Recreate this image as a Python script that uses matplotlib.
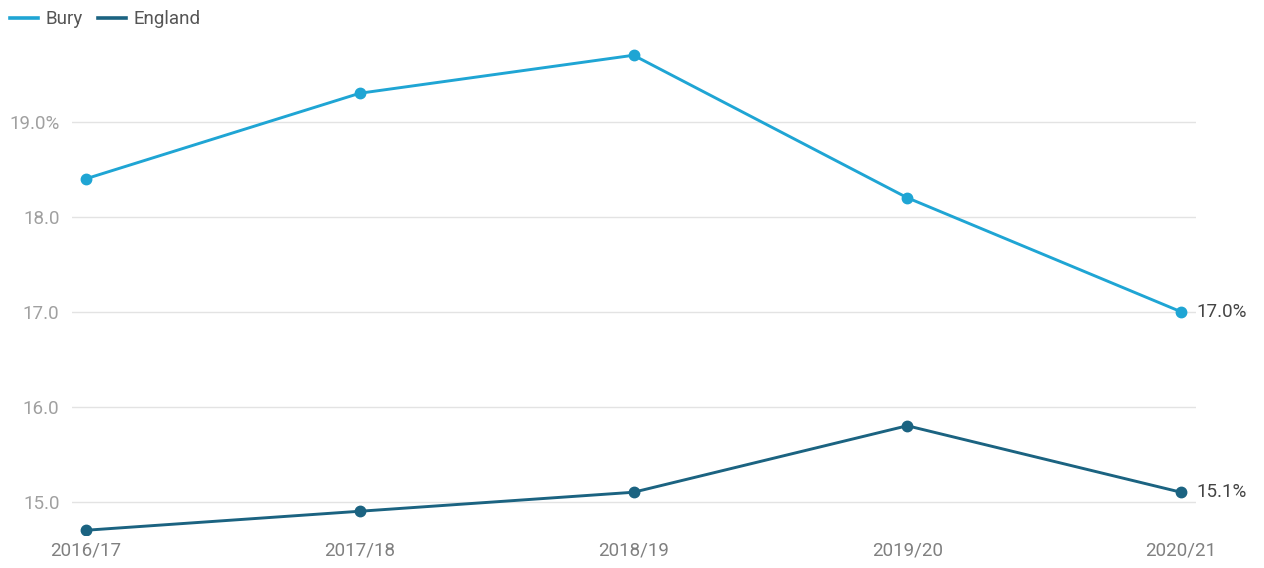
import matplotlib.pyplot as plt
import numpy as np

plt.rcParams['font.family'] = ['Roboto', 'DejaVu Sans']

years = ['2016/17', '2017/18', '2018/19', '2019/20', '2020/21']
bury = [18.4, 19.3, 19.7, 18.2, 17.0]
england = [14.7, 14.9, 15.1, 15.8, 15.1]
yticks = [15.0, 16.0, 17.0, 18.0, 19.0]
ytick_labels = ['15.0', '16.0', '17.0', '18.0', '19.0%']

bury_col = '#1fa5d4'
eng_col = '#1b6381'

W, H = 1264, 568
fig = plt.figure(figsize=(W / 100, H / 100), dpi=100)
ax = fig.add_axes([72 / W, (H - 535) / H, (1196 - 72) / W, (535 - 41) / H])

x = np.arange(len(years))
ax.plot(x, bury, color=bury_col, lw=2.1, marker='o', ms=7.5, label='Bury', zorder=3)
ax.plot(x, england, color=eng_col, lw=2.1, marker='o', ms=7.5, label='England', zorder=3)

ax.text(x[-1] + 0.055, bury[-1], f'{bury[-1]:.1f}%', va='center', ha='left',
        fontsize=13.5, color='#444444')
ax.text(x[-1] + 0.055, england[-1], f'{england[-1]:.1f}%', va='center', ha='left',
        fontsize=13.5, color='#444444')

ax.set_xlim(-14 / 273.75, 4 + 15 / 273.75)
ax.set_ylim(14.65, 19.85)
ax.set_yticks(yticks)
ax.set_yticklabels(ytick_labels)
ax.set_xticks(x)
ax.set_xticklabels(years)
ax.grid(axis='y', color='#e3e3e3', lw=1)
ax.set_axisbelow(True)
for s in ax.spines.values():
    s.set_visible(False)
ax.tick_params(axis='y', length=0, pad=9, labelsize=13.5, labelcolor='#a0a0a0')
ax.tick_params(axis='x', length=0, pad=5, labelsize=13.5, labelcolor='#808080')

fig.legend(loc='upper left', bbox_to_anchor=(0.0, 1.0), ncol=2, frameon=False,
           fontsize=13.5, handlelength=1.5, handletextpad=0.4, columnspacing=0.8,
           borderaxespad=0.15, labelcolor='#555555')
for h in fig.legends[0].legend_handles:
    h.set_marker('')
    h.set_linewidth(2.6)

fig.savefig('out.png', dpi=100)
